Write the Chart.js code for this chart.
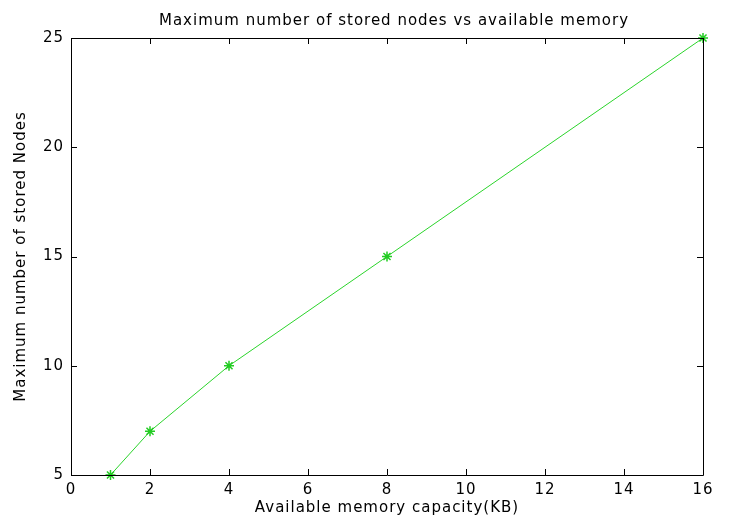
<!DOCTYPE html>
<html>
<head>
<meta charset="utf-8">
<script src="https://cdn.jsdelivr.net/npm/chart.js@4"></script>
<style>
  html, body { margin: 0; padding: 0; background: #fff; }
  #wrap { width: 732px; height: 520px; }
</style>
</head>
<body>
<div id="wrap"><canvas id="memChart" width="732" height="520"></canvas></div>
<script>
// données
const memoryKB = [1, 2, 4, 8, 16];
const storedNodes = [5, 7, 10, 15, 25];
const xTicks = [0, 2, 4, 6, 8, 10, 12, 14, 16];
const yTicks = [5, 10, 15, 20, 25];
const chartTitle = 'Maximum number of stored nodes vs available memory';

const font = 'DejaVu Sans';
const spacing = '1px'; // police matlab assez large

// cadre + graduations vers l'intérieur (style matlab) + titre
const boxTicks = {
  id: 'boxTicks',
  beforeDraw(chart) {
    chart.ctx.letterSpacing = spacing;
  },
  afterDraw(chart) {
    const { ctx, chartArea: a, scales } = chart;
    const len = 6;
    ctx.save();
    ctx.strokeStyle = '#000';
    ctx.lineWidth = 1;
    ctx.beginPath();
    ctx.rect(Math.round(a.left) + 0.5, Math.round(a.top) + 0.5,
      Math.round(a.right - a.left), Math.round(a.bottom - a.top));
    xTicks.forEach(v => {
      const x = Math.round(scales.x.getPixelForValue(v)) + 0.5;
      ctx.moveTo(x, a.bottom); ctx.lineTo(x, a.bottom - len);
      ctx.moveTo(x, a.top); ctx.lineTo(x, a.top + len);
    });
    yTicks.forEach(v => {
      const y = Math.round(scales.y.getPixelForValue(v)) + 0.5;
      ctx.moveTo(a.left, y); ctx.lineTo(a.left + len, y);
      ctx.moveTo(a.right, y); ctx.lineTo(a.right - len, y);
    });
    ctx.stroke();

    // titre
    ctx.letterSpacing = spacing;
    ctx.fillStyle = '#000';
    ctx.font = '15px "' + font + '"';
    ctx.textAlign = 'center';
    ctx.textBaseline = 'middle';
    ctx.fillText(chartTitle, 394, 21);
    ctx.restore();
  }
};

new Chart(document.getElementById('memChart').getContext('2d'), {
  type: 'line',
  data: {
    datasets: [{
      data: memoryKB.map((x, i) => ({ x: x, y: storedNodes[i] })),
      borderColor: '#2bd42b',
      borderWidth: 1,
      pointStyle: 'star',
      pointRadius: 5,
      pointBorderColor: '#22cc22',
      pointBorderWidth: 1.5,
      pointBackgroundColor: '#22cc22',
      tension: 0,
      clip: false
    }]
  },
  options: {
    responsive: false,
    animation: false,
    layout: { padding: { top: 38, right: 29, bottom: 0, left: 0 } },
    plugins: {
      legend: { display: false },
      tooltip: { enabled: false },
      title: { display: false }
    },
    scales: {
      x: {
        type: 'linear',
        min: 0, max: 16,
        afterBuildTicks: s => { s.ticks = xTicks.map(v => ({ value: v })); },
        afterFit: s => { s.height = 45; },
        grid: { display: false, drawTicks: false },
        border: { display: false },
        ticks: { color: '#000', font: { family: font, size: 15 }, padding: 6, maxRotation: 0 },
        title: {
          display: true,
          text: 'Available memory capacity(KB)',
          color: '#000',
          font: { family: font, size: 15 },
          padding: { top: 0, bottom: 3 }
        }
      },
      y: {
        min: 5, max: 25,
        afterBuildTicks: s => { s.ticks = yTicks.map(v => ({ value: v })); },
        afterFit: s => { s.width = 71; },
        grid: { display: false, drawTicks: false },
        border: { display: false },
        ticks: { color: '#000', font: { family: font, size: 15 }, padding: 7 },
        title: {
          display: true,
          text: 'Maximum number of stored Nodes',
          color: '#000',
          font: { family: font, size: 15 },
          padding: { top: 12, bottom: 0 }
        }
      }
    }
  },
  plugins: [boxTicks]
});
</script>
</body>
</html>
